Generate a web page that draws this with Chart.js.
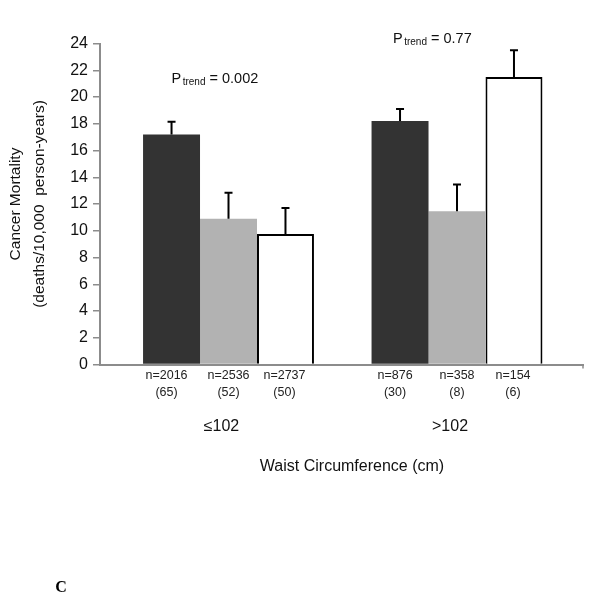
<!DOCTYPE html>
<html>
<head>
<meta charset="utf-8">
<script src="https://cdn.jsdelivr.net/npm/chart.js@4.4.0/dist/chart.umd.min.js"></script>
<style>
  html, body { margin: 0; padding: 0; background: #fff; }
</style>
</head>
<body>
<canvas id="chart" width="600" height="600"></canvas>
<script>
// waist circumference groups
const groups = ["≤102", ">102"];
// mortality per group, one array per bar colour
const darkValues = [17.2, 18.2];
const grayValues = [10.9, 11.45];
const whiteValues = [9.75, 21.5];
// upper end of the error bars
const darkUpper = [18.15, 19.1];
const grayUpper = [12.85, 13.45];
const whiteUpper = [11.7, 23.5];
// labels below each bar
const darkN = ["n=2016", "n=876"];
const grayN = ["n=2536", "n=358"];
const whiteN = ["n=2737", "n=154"];
const darkDeaths = ["(65)", "(30)"];
const grayDeaths = ["(52)", "(8)"];
const whiteDeaths = ["(50)", "(6)"];
// P for trend in each group
const pTrend = ["0.002", "0.77"];

const sans = '"Liberation Sans", Arial, sans-serif';
const axisGray = "#8c8c8c";

const upper = [darkUpper, grayUpper, whiteUpper];
const nLabels = [darkN, grayN, whiteN];
const deathLabels = [darkDeaths, grayDeaths, whiteDeaths];

const toPoints = (vals) => vals.map((v, i) => ({ x: i, y: v }));

//draws error bars, labels under bars and the text notes
const extrasPlugin = {
  id: "extras",
  afterDatasetsDraw(chart) {
    const ctx = chart.ctx;
    const xs = chart.scales.x;
    const ys = chart.scales.y;
    const area = chart.chartArea;
    ctx.save();
    //small end tick on the x axis
    ctx.strokeStyle = axisGray;
    ctx.lineWidth = 1.5;
    ctx.beginPath();
    ctx.moveTo(area.right, area.bottom);
    ctx.lineTo(area.right, area.bottom + 4);
    ctx.stroke();
    //error bars (upper only)
    ctx.strokeStyle = "#000";
    ctx.lineWidth = 2;
    chart.data.datasets.forEach((ds, d) => {
      const meta = chart.getDatasetMeta(d);
      meta.data.forEach((bar, i) => {
        const top = ys.getPixelForValue(upper[d][i]);
        ctx.beginPath();
        ctx.moveTo(bar.x, bar.y);
        ctx.lineTo(bar.x, top);
        ctx.moveTo(bar.x - 4, top);
        ctx.lineTo(bar.x + 4, top);
        ctx.stroke();
      });
    });
    //n and deaths under each bar
    const dx = [-5, 0, -1];
    ctx.fillStyle = "#222";
    ctx.font = "12.5px " + sans;
    ctx.textAlign = "center";
    ctx.textBaseline = "middle";
    chart.data.datasets.forEach((ds, d) => {
      const meta = chart.getDatasetMeta(d);
      meta.data.forEach((bar, i) => {
        ctx.fillText(nLabels[d][i], bar.x + dx[d], 375.5);
        ctx.fillText(deathLabels[d][i], bar.x + dx[d], 392.5);
      });
    });
    //group names and axis title
    ctx.fillStyle = "#111";
    ctx.font = "16px " + sans;
    groups.forEach((g, i) => {
      ctx.fillText(g, xs.getPixelForValue(i) - 7, 427);
    });
    ctx.fillText("Waist Circumference (cm)", 352, 467);
    //P trend notes
    const pdx = [-57, -64];
    const pVal = [21.02, 24.05];
    ctx.textAlign = "left";
    ctx.textBaseline = "alphabetic";
    pTrend.forEach((p, i) => {
      let x = xs.getPixelForValue(i) + pdx[i];
      const y = ys.getPixelForValue(pVal[i]);
      ctx.font = "14.5px " + sans;
      ctx.fillText("P", x, y);
      x += ctx.measureText("P").width + 1.5;
      ctx.font = "10px " + sans;
      ctx.fillText("trend", x, y + 2);
      x += ctx.measureText("trend").width;
      ctx.font = "14.5px " + sans;
      ctx.fillText(" = " + p, x, y);
    });
    //panel letter
    ctx.font = 'bold 16px "Liberation Serif", "Times New Roman", serif';
    ctx.textAlign = "center";
    ctx.textBaseline = "middle";
    ctx.fillStyle = "#000";
    ctx.fillText("C", 61, 588);
    ctx.restore();
  },
};

new Chart(document.getElementById("chart"), {
  type: "bar",
  plugins: [extrasPlugin],
  data: {
    datasets: [
      {
        label: "dark",
        data: toPoints(darkValues),
        backgroundColor: "#333333",
        borderWidth: 0,
      },
      {
        label: "gray",
        data: toPoints(grayValues),
        backgroundColor: "#b2b2b2",
        borderWidth: 0,
      },
      {
        label: "white",
        data: toPoints(whiteValues),
        backgroundColor: "#ffffff",
        borderColor: "#000000",
        borderWidth: 2,
      },
    ],
  },
  options: {
    responsive: false,
    animation: false,
    categoryPercentage: 0.748,
    barPercentage: 1,
    layout: { padding: { top: 43.5, right: 17, bottom: 0, left: 0 } },
    plugins: {
      legend: { display: false },
      tooltip: { enabled: false },
    },
    scales: {
      x: {
        type: "linear",
        offset: false,
        min: -0.5624,
        max: 1.5514,
        afterFit: (s) => { s.height = 235.5; },
        ticks: { display: false, stepSize: 1, includeBounds: false },
        grid: { display: false, offset: false },
        border: { display: true, color: axisGray, width: 2 },
      },
      y: {
        min: 0,
        max: 24,
        afterFit: (s) => { s.width = 100; },
        ticks: {
          stepSize: 2,
          padding: 5,
          color: "#111",
          font: { family: sans, size: 16 },
        },
        grid: {
          drawOnChartArea: false,
          drawTicks: true,
          tickLength: 7,
          color: axisGray,
          lineWidth: 1.5,
        },
        border: { display: true, color: axisGray, width: 2 },
        title: {
          display: true,
          text: ["Cancer Mortality", "(deaths/10,000  person-years)"],
          color: "#111",
          font: { family: sans, size: 15.5, lineHeight: 1.6 },
          padding: { top: 3, bottom: 0 },
        },
      },
    },
  },
});
</script>
</body>
</html>
